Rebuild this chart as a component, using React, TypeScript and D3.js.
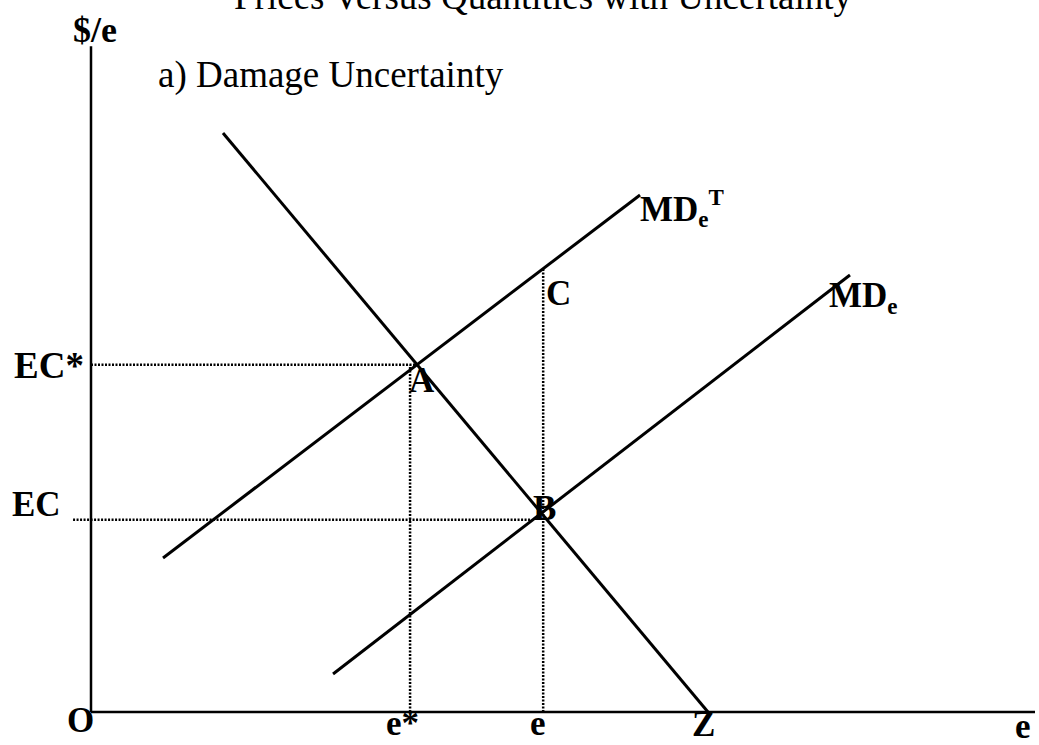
import React from "react";
import * as d3 from "d3";

// Axis extents in abstract units ($/e on the vertical, emissions e on the horizontal)
const xDomain = [0, 100];
const yDomain = [0, 100];

// Marginal abatement cost curve (downward sloping), ending at Z on the e axis
const macLine = [
  { x: 13.98, y: 84.9 },
  { x: 65.36, y: 0 },
];
// True marginal damage MD_e^T
const mdTrue = [
  { x: 7.63, y: 22.58 },
  { x: 58.16, y: 75.81 },
];
// Expected marginal damage MD_e
const mdExpected = [
  { x: 25.64, y: 5.57 },
  { x: 80.4, y: 64.08 },
];

// Reference levels
const ecStar = 50.9;
const ecLevel = 28.2;
const eStar = 33.8;
const eLevel = 47.9;
const cLevel = 65.0;
const aX = 34.54;
const bX = 46.5;

const W = 1039;
const H = 745;
const ox = 91;
const oy = 712;

export default function App() {
  const x = d3.scaleLinear().domain(xDomain).range([ox, 1035]);
  const y = d3.scaleLinear().domain(yDomain).range([oy, 30]);
  const line = d3
    .line<{ x: number; y: number }>()
    .x((d) => x(d.x))
    .y((d) => y(d.y));

  const serif = "'Liberation Serif', 'Times New Roman', serif";
  const lbl = { fontFamily: serif, fontWeight: 700, fontSize: 35, fill: "#000" } as const;
  const dot = { stroke: "#000", strokeWidth: 2.5, strokeDasharray: "2,1.5", fill: "none" } as const;

  return (
    <svg
      width={W}
      height={H}
      style={{ position: "absolute", left: 0, top: 0, background: "#fff" }}
    >
      {/* title, running off the top edge */}
      <text x={543} y={9} textAnchor="middle" style={{ fontFamily: serif, fontSize: 37 }}>
        Prices Versus Quantities with Uncertainty
      </text>
      <text x={158} y={87} style={{ fontFamily: serif, fontSize: 37 }}>
        a) Damage Uncertainty
      </text>

      {/* axes */}
      <line x1={x(0)} y1={y(97.6)} x2={x(0)} y2={y(0)} stroke="#000" strokeWidth={2.5} />
      <line x1={x(0)} y1={y(0)} x2={x(100)} y2={y(0)} stroke="#000" strokeWidth={2.5} />

      {/* dotted guides */}
      <line x1={x(0)} y1={y(ecStar)} x2={x(aX)} y2={y(ecStar)} style={dot} />
      <line x1={x(-1.9)} y1={y(ecLevel)} x2={x(bX)} y2={y(ecLevel)} style={dot} />
      <line x1={x(eStar)} y1={y(0)} x2={x(eStar)} y2={y(ecStar)} style={dot} />
      <line x1={x(eLevel)} y1={y(0)} x2={x(eLevel)} y2={y(cLevel)} style={dot} />

      {/* curves */}
      <path d={line(macLine) ?? ""} stroke="#000" strokeWidth={3} fill="none" />
      <path d={line(mdTrue) ?? ""} stroke="#000" strokeWidth={3} fill="none" />
      <path d={line(mdExpected) ?? ""} stroke="#000" strokeWidth={3} fill="none" />

      {/* axis labels */}
      <text x={73} y={42} style={{ ...lbl, fontSize: 36 }}>$/e</text>
      <text x={14} y={378} style={{ ...lbl, fontSize: 37 }}>EC*</text>
      <text x={12} y={516} style={lbl}>EC</text>
      <text x={67} y={732} style={lbl}>O</text>
      <text x={386} y={735} style={lbl}>e*</text>
      <text x={530} y={735} style={lbl}>e</text>
      <text x={692} y={736} style={lbl}>Z</text>
      <text x={1015} y={738} style={lbl}>e</text>

      {/* point labels */}
      <text x={409} y={392} style={lbl}>A</text>
      <text x={533} y={520} style={lbl}>B</text>
      <text x={546} y={305} style={lbl}>C</text>

      {/* curve labels */}
      <text x={640} y={221} style={lbl}>
        MD
        <tspan fontSize={23} dy={6}>e</tspan>
        <tspan fontSize={23} dy={-22}>T</tspan>
      </text>
      <text x={829} y={307} style={lbl}>
        MD
        <tspan fontSize={23} dy={7}>e</tspan>
      </text>
    </svg>
  );
}
